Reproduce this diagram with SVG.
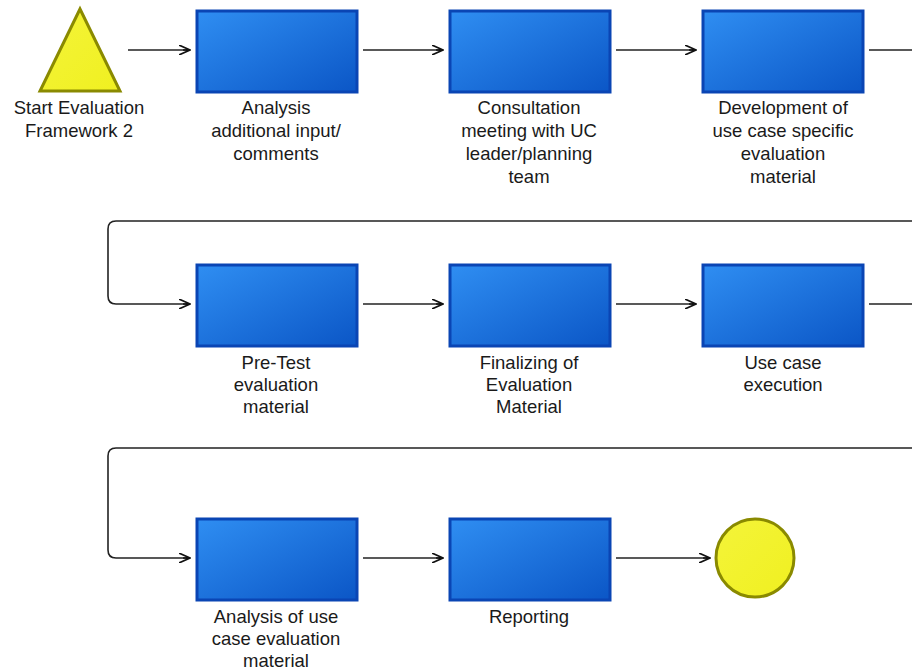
<svg xmlns="http://www.w3.org/2000/svg" width="912" height="670" viewBox="0 0 912 670">
<defs>
<linearGradient id="bg" x1="0" y1="0" x2="1" y2="1">
<stop offset="0" stop-color="#2f8ef2"/>
<stop offset="1" stop-color="#0b56c6"/>
</linearGradient>
<linearGradient id="yg" x1="0" y1="0" x2="1" y2="1">
<stop offset="0" stop-color="#f4f43a"/>
<stop offset="1" stop-color="#f0f020"/>
</linearGradient>
<marker id="arr" viewBox="0 0 12 10" refX="11" refY="5" markerWidth="12" markerHeight="10" markerUnits="userSpaceOnUse" orient="auto">
<path d="M0,0 L11,5 L0,10 M4,5 L11,5" fill="none" stroke="#111" stroke-width="1.6"/>
</marker>
<style>
.box{fill:url(#bg);stroke:#0a45b4;stroke-width:3}
.lbl{font-family:"Liberation Sans",Arial,sans-serif;font-size:18.5px;fill:#1a1a1a;text-anchor:middle}
.con{fill:none;stroke:#222;stroke-width:1.6;marker-end:url(#arr)}
.ln{fill:none;stroke:#222;stroke-width:1.6}
</style>
</defs>
<rect width="912" height="670" fill="#fff"/>
<g id="connectors">
<line class="con" x1="128" y1="50" x2="190" y2="50"/>
<line class="con" x1="363" y1="50" x2="443" y2="50"/>
<line class="con" x1="616" y1="50" x2="696" y2="50"/>
<line class="ln" x1="869" y1="50" x2="912" y2="50"/>
<path class="con" d="M912,221 L116,221 Q108,221 108,229 L108,296 Q108,304 116,304 L190,304"/>
<line class="con" x1="363" y1="304" x2="443" y2="304"/>
<line class="con" x1="616" y1="304" x2="696" y2="304"/>
<line class="ln" x1="869" y1="304" x2="912" y2="304"/>
<path class="con" d="M912,448 L116,448 Q108,448 108,456 L108,550 Q108,558 116,558 L190,558"/>
<line class="con" x1="363" y1="558" x2="443" y2="558"/>
<line class="con" x1="616" y1="558" x2="710" y2="558"/>
</g>
<g id="start">
<polygon points="80,9 40,91 120,91" fill="url(#yg)" stroke="#8a8a00" stroke-width="3" stroke-linejoin="miter"/>
<text class="lbl" x="79" y="114">Start Evaluation</text>
<text class="lbl" x="79" y="137">Framework 2</text>
</g>
<g id="n1">
<rect class="box" x="197" y="11" width="160" height="81"/>
<text class="lbl" x="276" y="114">Analysis</text>
<text class="lbl" x="276" y="137">additional input/</text>
<text class="lbl" x="276" y="160">comments</text>
</g>
<g id="n2">
<rect class="box" x="450" y="11" width="160" height="81"/>
<text class="lbl" x="529" y="114">Consultation</text>
<text class="lbl" x="529" y="137">meeting with UC</text>
<text class="lbl" x="529" y="160">leader/planning</text>
<text class="lbl" x="529" y="183">team</text>
</g>
<g id="n3">
<rect class="box" x="703" y="11" width="160" height="81"/>
<text class="lbl" x="783" y="114">Development of</text>
<text class="lbl" x="783" y="137">use case specific</text>
<text class="lbl" x="783" y="160">evaluation</text>
<text class="lbl" x="783" y="183">material</text>
</g>
<g id="n4">
<rect class="box" x="197" y="265" width="160" height="81"/>
<text class="lbl" x="276" y="369">Pre-Test</text>
<text class="lbl" x="276" y="391">evaluation</text>
<text class="lbl" x="276" y="413">material</text>
</g>
<g id="n5">
<rect class="box" x="450" y="265" width="160" height="81"/>
<text class="lbl" x="529" y="369">Finalizing of</text>
<text class="lbl" x="529" y="391">Evaluation</text>
<text class="lbl" x="529" y="413">Material</text>
</g>
<g id="n6">
<rect class="box" x="703" y="265" width="160" height="81"/>
<text class="lbl" x="783" y="369">Use case</text>
<text class="lbl" x="783" y="391">execution</text>
</g>
<g id="n7">
<rect class="box" x="197" y="519" width="160" height="81"/>
<text class="lbl" x="276" y="623">Analysis of use</text>
<text class="lbl" x="276" y="645">case evaluation</text>
<text class="lbl" x="276" y="667">material</text>
</g>
<g id="n8">
<rect class="box" x="450" y="519" width="160" height="81"/>
<text class="lbl" x="529" y="623">Reporting</text>
</g>
<g id="end">
<circle cx="755" cy="558" r="39" fill="url(#yg)" stroke="#8a8a00" stroke-width="3"/>
</g>
</svg>
